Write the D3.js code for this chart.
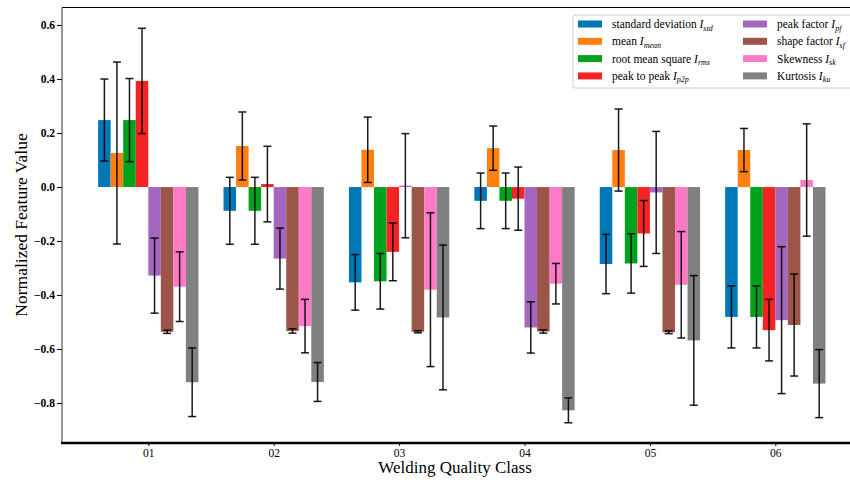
<!DOCTYPE html>
<html>
<head>
<meta content="text/html;charset=utf-8" http-equiv="Content-Type">
<script type="text/javascript" src="https://cdn.jsdelivr.net/npm/d3@7"></script>
<style type="text/css">
 body { margin:0; background-color:#ffffff; }
 svg text { font-family:"Liberation Serif", serif; }
</style>
</head>
<body>
<script type="text/javascript">

 var classes = ["01", "02", "03", "04", "05", "06"];
 var yTicks = [-0.8, -0.6, -0.4, -0.2, 0.0, 0.2, 0.4, 0.6];

 var featureNames = ["standard deviation ", "mean ", "root mean square ", "peak to peak ",
                     "peak factor ", "shape factor ", "Skewness ", "Kurtosis "];
 var featureSubs = ["std", "mean", "rms", "p2p", "pf", "sf", "sk", "ku"];
 var colors = ["#0077b7", "#ff8010", "#00a31b", "#f52323", "#a467bf", "#9b5549", "#ff7ac6", "#808080"];

 // mean values per feature, one entry per class
 var stdVals  = [0.248, -0.088, -0.353, -0.051, -0.285, -0.481];
 var meanVals = [0.126, 0.152, 0.138, 0.144, 0.137, 0.137];
 var rmsVals  = [0.248, -0.088, -0.349, -0.051, -0.283, -0.481];
 var p2pVals  = [0.393, 0.011, -0.240, -0.043, -0.172, -0.530];
 var pfVals   = [-0.328, -0.265, 0.005, -0.520, -0.020, -0.493];
 var sfVals   = [-0.536, -0.533, -0.536, -0.535, -0.538, -0.511];
 var skVals   = [-0.369, -0.515, -0.380, -0.358, -0.362, 0.026];
 var kuVals   = [-0.723, -0.722, -0.483, -0.827, -0.568, -0.728];

 // standard deviations (error bars)
 var stdErr  = [0.152, 0.124, 0.103, 0.103, 0.110, 0.115];
 var meanErr = [0.337, 0.126, 0.121, 0.082, 0.152, 0.080];
 var rmsErr  = [0.154, 0.124, 0.103, 0.103, 0.110, 0.115];
 var p2pErr  = [0.195, 0.140, 0.107, 0.117, 0.122, 0.114];
 var pfErr   = [0.139, 0.113, 0.193, 0.095, 0.226, 0.272];
 var sfErr   = [0.006, 0.008, 0.004, 0.006, 0.005, 0.189];
 var skErr   = [0.129, 0.099, 0.285, 0.075, 0.197, 0.208];
 var kuErr   = [0.127, 0.072, 0.268, 0.046, 0.240, 0.126];

 var values = [stdVals, meanVals, rmsVals, p2pVals, pfVals, sfVals, skVals, kuVals];
 var errors = [stdErr, meanErr, rmsErr, p2pErr, pfErr, sfErr, skErr, kuErr];

 var svg = d3.select("body")
             .append("svg")
             .attr("width", 850)
             .attr("height", 482)
             .style("background-color", "#ffffff");

 var x = d3.scaleLinear().domain([-0.688, 5.688]).range([62, 861.6]);
 var y = d3.scaleLinear().domain([-0.948, 0.665]).range([443, 7.5]);
 var barW = 0.1;

 // bars + error bars, one series after another
 values.forEach(function(vals, s) {
   var g = svg.append("g").attr("class", "series");
   var off = (s - 3.5) * barW;
   g.selectAll("rect")
     .data(vals)
     .enter()
     .append("rect")
     .attr("x", function(d, i) { return x(i + off - barW / 2); })
     .attr("width", x(barW) - x(0))
     .attr("y", function(d) { return y(Math.max(0, d)); })
     .attr("height", function(d) { return Math.abs(y(d) - y(0)); })
     .style("fill", colors[s]);

   var eb = g.selectAll("g.err")
     .data(vals)
     .enter()
     .append("g")
     .attr("class", "err")
     .style("stroke", "#000")
     .style("stroke-opacity", 0.9)
     .style("stroke-width", 1.5);
   eb.append("line")
     .attr("x1", function(d, i) { return x(i + off); })
     .attr("x2", function(d, i) { return x(i + off); })
     .attr("y1", function(d, i) { return y(d + errors[s][i]); })
     .attr("y2", function(d, i) { return y(d - errors[s][i]); });
   [1, -1].forEach(function(sign) {
     eb.append("line")
       .attr("x1", function(d, i) { return x(i + off) - 4; })
       .attr("x2", function(d, i) { return x(i + off) + 4; })
       .attr("y1", function(d, i) { return y(d + sign * errors[s][i]); })
       .attr("y2", function(d, i) { return y(d + sign * errors[s][i]); });
   });
 });

 // y axis
 var yAxis = svg.append("g")
   .attr("transform", "translate(62,0)")
   .call(d3.axisLeft(y).tickValues(yTicks).tickFormat(d3.format(".1f")).tickSize(5).tickPadding(2))
   .attr("font-family", "Liberation Serif")
   .attr("font-size", 11.5)
   .attr("font-weight", "bold");
 yAxis.select(".domain").remove();

 // x axis
 var xAxis = svg.append("g")
   .attr("transform", "translate(0,443)")
   .call(d3.axisBottom(x).tickValues(d3.range(classes.length))
         .tickFormat(function(d) { return classes[d]; }).tickSize(3).tickPadding(3))
   .attr("font-family", "Liberation Serif")
   .attr("font-size", 11.5);
 xAxis.select(".domain").remove();

 // spines
 svg.append("line").attr("x1", 62).attr("x2", 62).attr("y1", 7.5).attr("y2", 443)
   .style("stroke", "#333").style("stroke-width", 1);
 svg.append("line").attr("x1", 62).attr("x2", 862).attr("y1", 7.5).attr("y2", 7.5)
   .style("stroke", "#000").style("stroke-width", 1);
 svg.append("line").attr("x1", 61).attr("x2", 862).attr("y1", 443).attr("y2", 443)
   .style("stroke", "#000").style("stroke-width", 2.5);

 // axis titles
 svg.append("text")
   .attr("transform", "translate(27,225) rotate(-90)")
   .attr("text-anchor", "middle")
   .style("font-size", "17.5px")
   .text("Normalized Feature Value");
 svg.append("text")
   .attr("x", 455)
   .attr("y", 473)
   .attr("text-anchor", "middle")
   .style("font-size", "17px")
   .text("Welding Quality Class");

 // legend
 var legend = svg.append("g").attr("transform", "translate(573,15)");
 legend.append("rect")
   .attr("width", 290).attr("height", 73).attr("rx", 2)
   .style("fill", "#fff").style("stroke", "#d0d0d0").style("stroke-width", 1);
 var item = legend.selectAll("g.item")
   .data(featureNames)
   .enter()
   .append("g")
   .attr("class", "item")
   .attr("transform", function(d, i) {
     return "translate(" + (i < 4 ? 5 : 170) + "," + (9 + (i % 4) * 17.3) + ")";
   });
 item.append("rect")
   .attr("x", 0).attr("y", -3.5).attr("width", 24).attr("height", 7)
   .style("fill", function(d, i) { return colors[i]; });
 var label = item.append("text")
   .attr("x", 34).attr("y", 4)
   .style("font-size", "11.5px");
 label.append("tspan").text(function(d) { return d; });
 label.append("tspan").style("font-style", "italic").text("I");
 label.append("tspan")
   .attr("dy", 2.5)
   .style("font-style", "italic")
   .style("font-size", "8px")
   .text(function(d, i) { return featureSubs[i]; });

</script>
</body>
</html>
